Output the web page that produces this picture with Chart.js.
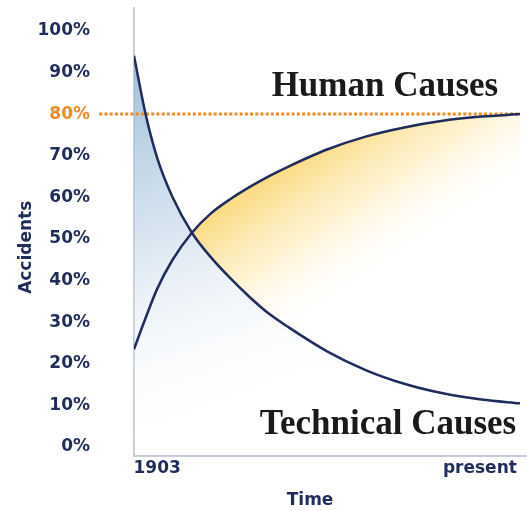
<!DOCTYPE html>
<html>
<head>
<meta charset="utf-8">
<script src="https://cdn.jsdelivr.net/npm/chart.js@4.4.1/dist/chart.umd.min.js"></script>
<style>
  body { margin: 0; background: #fff; }
  #wrap { width: 527px; height: 511px; }
</style>
</head>
<body>
<div id="wrap"><canvas id="myChart" width="527" height="511"></canvas></div>
<script>
// time runs from 1903 (0) to present (100)
let timeSteps = [0, 3, 6, 10, 15, 20, 25, 30, 35, 40, 50, 60, 70, 80, 90, 100];
let technicalCauses = [94, 80, 69.5, 60, 51.5, 45.5, 40.5, 36, 32, 28.8, 23, 18.5, 15.2, 12.9, 11.4, 10.5];
let humanCauses = [23.5, 31, 38, 45, 51.5, 56.2, 59.6, 62.5, 65.1, 67.4, 71.5, 74.6, 76.8, 78.4, 79.4, 80];

let markerLevel = 80;
let markerFrom = -9;
let markerTo = 100;

let yTicks = [0, 10, 20, 30, 40, 50, 60, 70, 80, 90, 100];
let xTickValues = [6, 89.6];
let xTickLabels = ["1903", "present"];

let navy = "#1f2c5c";
let orange = "#f08a24";
let tickFont = { family: "DejaVu Sans", weight: "bold", size: 17 };

let toPoints = (vals) => vals.map((v, i) => ({ x: timeSteps[i], y: v }));

let blueFill = (ctx) => {
  let chart = ctx.chart;
  let area = chart.chartArea;
  if (!area) return "rgba(160,190,215,0.6)";
  let g = chart.ctx.createLinearGradient(area.left, area.top + 50, area.left + 126, area.top + 410);
  g.addColorStop(0, "rgba(140,180,212,0.85)");
  g.addColorStop(0.45, "rgba(195,214,232,0.65)");
  g.addColorStop(1, "rgba(255,255,255,0)");
  return g;
};

let yellowFill = (ctx) => {
  let chart = ctx.chart;
  let area = chart.chartArea;
  if (!area) return "rgba(250,215,120,0.6)";
  let x0 = chart.scales.x.getPixelForValue(15);
  let y0 = chart.scales.y.getPixelForValue(51.5);
  let g = chart.ctx.createLinearGradient(x0, y0, x0 + 80, y0 + 120);
  g.addColorStop(0, "rgba(250,214,115,0.85)");
  g.addColorStop(0.45, "rgba(253,232,170,0.55)");
  g.addColorStop(1, "rgba(255,255,255,0)");
  return g;
};

// labels drawn on top of the chart
let labelsPlugin = {
  id: "labels",
  afterDraw(chart) {
    let c = chart.ctx;
    let xs = chart.scales.x;
    let ys = chart.scales.y;
    c.save();
    c.fillStyle = "#1a1a1a";
    c.textAlign = "center";
    c.textBaseline = "middle";
    c.font = "bold 35px 'Liberation Serif'";
    c.fillText("Human Causes", xs.getPixelForValue(65), ys.getPixelForValue(86.5));
    c.fillText("Technical Causes", xs.getPixelForValue(65.8), ys.getPixelForValue(5.3));

    c.fillStyle = navy;
    c.font = "bold 17px 'DejaVu Sans'";
    c.fillText("Time", xs.getPixelForValue(45.6), chart.height - 10);

    c.translate(27, ys.getPixelForValue(48));
    c.rotate(-Math.PI / 2);
    c.fillText("Accidents", 0, 0);
    c.restore();
  },
};

let config = {
  type: "line",
  data: {
    datasets: [
      {
        label: "Technical Causes",
        data: toPoints(technicalCauses),
        borderColor: navy,
        borderWidth: 2.5,
        pointRadius: 0,
        cubicInterpolationMode: "monotone",
        fill: "origin",
        backgroundColor: blueFill,
      },
      {
        label: "Human Causes",
        data: toPoints(humanCauses),
        borderColor: navy,
        borderWidth: 2.5,
        pointRadius: 0,
        cubicInterpolationMode: "monotone",
        fill: { target: 0, above: yellowFill, below: "rgba(0,0,0,0)" },
      },
      {
        label: "80%",
        data: [
          { x: markerFrom, y: markerLevel },
          { x: markerTo, y: markerLevel },
        ],
        borderColor: orange,
        borderWidth: 3,
        borderDash: [3, 2.2],
        pointRadius: 0,
        fill: false,
        clip: false,
      },
    ],
  },
  options: {
    responsive: false,
    animation: false,
    layout: { padding: { top: 8, left: 0, right: 0, bottom: 0 } },
    plugins: {
      legend: { display: false },
      tooltip: { enabled: false },
      filler: { drawTime: "beforeDatasetsDraw" },
    },
    scales: {
      x: {
        type: "linear",
        min: 0,
        max: 101.8,
        grid: { display: false, drawTicks: false },
        border: { display: true, color: "#c9ced8", width: 2 },
        afterBuildTicks: (scale) => {
          scale.ticks = xTickValues.map((v) => ({ value: v }));
        },
        afterFit: (scale) => {
          scale.height = 55;
          scale.paddingLeft = 0;
          scale.paddingRight = 0;
        },
        ticks: {
          padding: 2,
          maxRotation: 0,
          autoSkip: false,
          color: navy,
          font: tickFont,
          callback: (v, i) => xTickLabels[i],
        },
      },
      y: {
        type: "linear",
        min: -2.16,
        max: 105.5,
        grid: { display: false, drawTicks: false },
        border: { display: true, color: "#c9ced8", width: 2 },
        afterBuildTicks: (scale) => {
          scale.ticks = yTicks.map((v) => ({ value: v }));
        },
        afterFit: (scale) => {
          scale.width = 134;
          scale.paddingTop = 0;
          scale.paddingBottom = 0;
        },
        ticks: {
          padding: 44,
          autoSkip: false,
          font: tickFont,
          color: (ctx) => (ctx.tick && ctx.tick.value === markerLevel ? orange : navy),
          callback: (v) => v + "%",
        },
      },
    },
  },
  plugins: [labelsPlugin],
};

let myChart = new Chart(document.getElementById("myChart"), config);
</script>
</body>
</html>
